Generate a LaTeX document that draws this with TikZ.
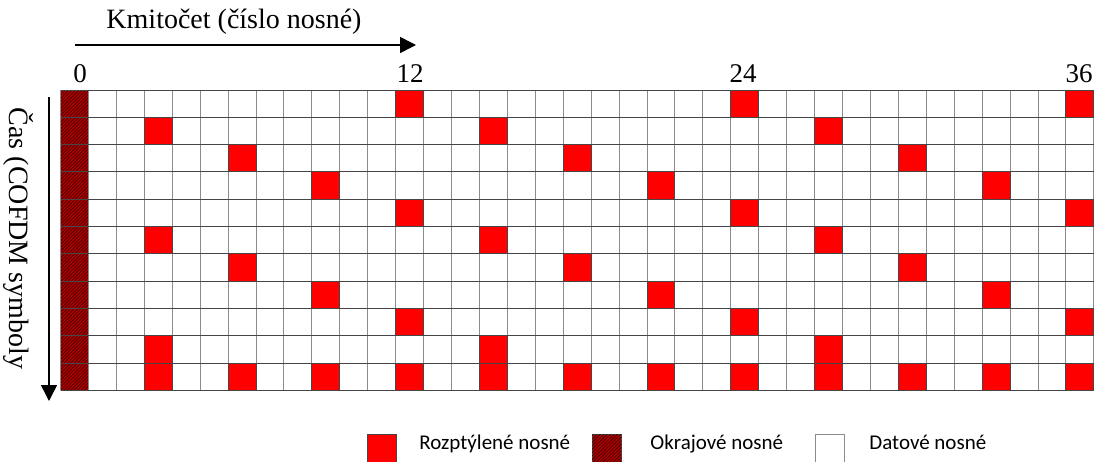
\documentclass[tikz,border=0pt]{standalone}
\usepackage{fontspec}
\setmainfont{Liberation Serif}
\newfontfamily\legendfont{Carlito}
\usetikzlibrary{arrows.meta,patterns.meta}
\definecolor{pilot}{RGB}{255,0,0}
\definecolor{okraj}{RGB}{175,0,0}
\definecolor{srafa}{RGB}{50,0,0}
\definecolor{mrizka}{RGB}{140,140,140}
\definecolor{radek}{RGB}{70,70,70}
\newcommand{\colw}{27.93}
\newcommand{\rowh}{27.3}

\begin{document}
\begin{tikzpicture}[x=0.5pt,y=-0.5pt,
  axis label/.style={font=\fontsize{14}{16}\selectfont,inner sep=0pt},
  number label/.style={font=\fontsize{13.5}{16}\selectfont,inner sep=0pt,anchor=base},
  legend label/.style={font=\legendfont\fontsize{10.5}{12}\selectfont,inner sep=0pt,anchor=base west},
  pilot cell/.style={fill=pilot,draw=radek,line width=0.5pt},
  edge cell/.style={fill=okraj,postaction={pattern={Lines[angle=45,distance=1.2pt,line width=0.3pt]},pattern color=srafa}},
  data cell/.style={fill=white,draw=mrizka,line width=0.5pt},
  axis arrow/.style={-{Triangle[length=8pt,width=8pt]},line width=0.75pt}]

  \useasboundingbox (0,0) rectangle (1102,461);

  % osy
  \node[axis label,anchor=base] (kmit) at (234,28) {Kmitočet (číslo nosné)};
  \node[axis label,rotate=-90] (cas) at (19,238.5) {Čas (COFDM symboly};
  \coordinate (f0) at (75,45);
  \coordinate (f1) at (416,45);
  \coordinate (t0) at (49,97);
  \coordinate (t1) at (49,401);
  \draw[axis arrow] (f0) -- (f1);
  \draw[axis arrow] (t0) -- (t1);

  \node[number label] (n0) at (80,82) {0};
  \node[number label] (n12) at (410,82) {12};
  \node[number label] (n24) at (743,82) {24};
  \node[number label] (n36) at (1079,82) {36};

  % mrizka nosnych
  \fill[white] (60.5,90) rectangle +(37*\colw,11*\rowh);
  \path[edge cell] (60.5,90) rectangle +(\colw,11*\rowh);
  \foreach \c in {0,...,37}
    \draw[mrizka,line width=0.5pt] ({60.5+\c*\colw},90) -- +(0,11*\rowh);
  \foreach \r in {0,...,11}
    \draw[radek,line width=0.5pt] (60.5,{90+\r*\rowh}) -- +(37*\colw,0);

  % rozptylene nosne
  \foreach \r/\a in {0/12,1/3,2/6,3/9,4/12,5/3,6/6,7/9,8/12,9/3}
    \foreach \k in {0,12,24}
      \draw[pilot cell] ({60.5+(\a+\k)*\colw},{90+\r*\rowh}) rectangle +(\colw,\rowh);
  \foreach \c in {3,6,...,36}
    \draw[pilot cell] ({60.5+\c*\colw},{90+10*\rowh}) rectangle +(\colw,\rowh);

  % legenda
  \draw[pilot cell] (367,434) rectangle +(29,29);
  \node[legend label] (l1) at (419,449) {Rozptýlené nosné};
  \path[edge cell,draw=radek,line width=0.5pt] (592,434) rectangle +(29,29);
  \node[legend label] (l2) at (650,449) {Okrajové nosné};
  \draw[data cell] (815,434) rectangle +(29,29);
  \node[legend label] (l3) at (869,449) {Datové nosné};
\end{tikzpicture}
\end{document}
